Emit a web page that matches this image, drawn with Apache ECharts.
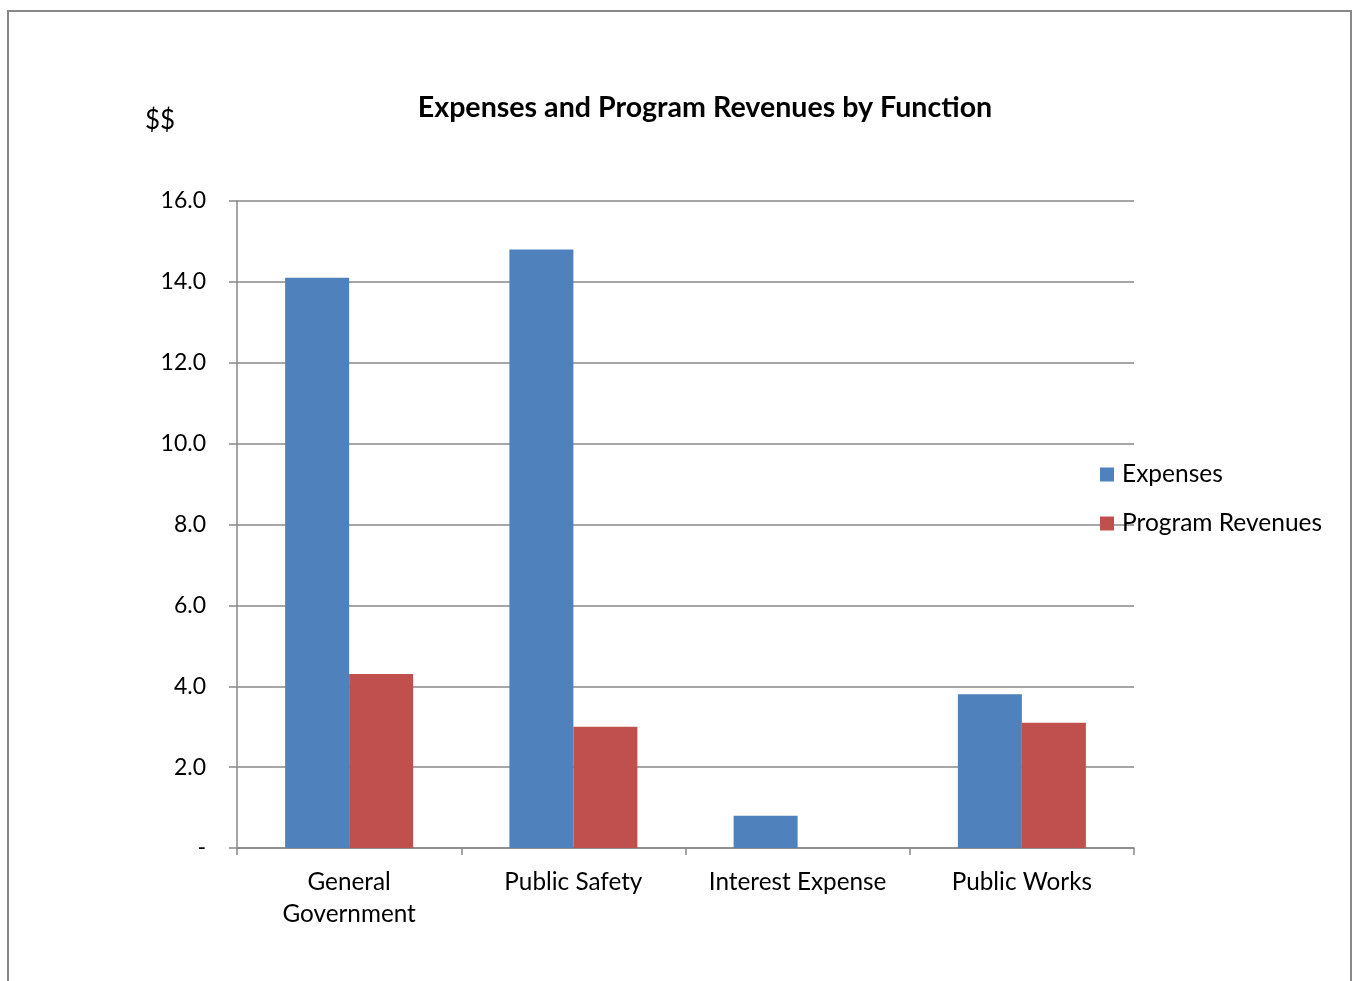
<!DOCTYPE html>
<html>
<head>
<meta charset="utf-8">
<script src="https://cdn.jsdelivr.net/npm/echarts@6/dist/echarts.min.js"></script>
<style>
  html, body { margin: 0; padding: 0; background: #fff; }
  #chart { width: 1354px; height: 981px; }
</style>
</head>
<body>
<div id="chart"></div>
<script>
// data (values in $ millions)
const categories = ['General\nGovernment', 'Public Safety', 'Interest Expense', 'Public Works'];
const expenses = [14.1, 14.8, 0.8, 3.8];
const programRevenues = [4.3, 3.0, 0, 3.1];
const seriesNames = ['Expenses', 'Program Revenues'];
const yTicks = { min: 0, max: 16, interval: 2 };

const font = 'Lato, "Open Sans", sans-serif';
const grey = '#888888';

const chart = echarts.init(document.getElementById('chart'));

const option = {
    animation: false,
    textStyle: { fontFamily: font },
    graphic: [
        {
            type: 'rect',
            shape: { x: 8, y: 11, width: 1343, height: 1000 },
            style: { fill: 'none', stroke: grey, lineWidth: 2 },
            silent: true,
        },
        {
            type: 'text',
            x: 705,
            y: 108,
            style: {
                text: 'Expenses and Program Revenues by Function',
                fontFamily: font,
                fontSize: 28.6,
                fontWeight: 'bold',
                fill: '#000',
                align: 'center',
                verticalAlign: 'middle',
            },
        },
        {
            type: 'text',
            x: 160,
            y: 121,
            style: {
                text: '$$',
                fontFamily: font,
                fontSize: 26,
                fill: '#000',
                align: 'center',
                verticalAlign: 'middle',
            },
        },
    ],
    legend: {
        data: seriesNames,
        orient: 'vertical',
        left: 1100,
        top: 462,
        padding: 0,
        itemWidth: 14,
        itemHeight: 14,
        itemGap: 24,
        icon: 'rect',
        textStyle: { fontFamily: font, fontSize: 24.5, color: '#000', lineHeight: 24, padding: [0, 0, 0, 3] },
    },
    grid: {
        left: 237,
        right: 220,
        top: 201,
        bottom: 133,
        containLabel: false,
    },
    xAxis: {
        type: 'category',
        data: categories,
        axisLine: { show: true, lineStyle: { color: grey, width: 1.5 } },
        axisTick: { show: true, length: 7, lineStyle: { color: grey, width: 1.5 } },
        axisLabel: {
            fontFamily: font,
            fontSize: 24.3,
            color: '#000',
            lineHeight: 32,
            margin: 18,
            interval: 0,
        },
    },
    yAxis: {
        type: 'value',
        min: yTicks.min,
        max: yTicks.max,
        interval: yTicks.interval,
        axisLine: { show: true, lineStyle: { color: grey, width: 1.5 } },
        axisTick: { show: true, length: 8, lineStyle: { color: grey, width: 1.5 } },
        splitLine: { show: true, lineStyle: { color: grey, width: 1.5 } },
        axisLabel: {
            fontFamily: font,
            fontSize: 23,
            color: '#000',
            margin: 31,
            formatter: (v) => (v === 0 ? '-' : v.toFixed(1)),
        },
    },
    series: [
        {
            name: seriesNames[0],
            type: 'bar',
            barWidth: 64,
            barGap: '0%',
            itemStyle: { color: '#4F81BD' },
            data: expenses,
        },
        {
            name: seriesNames[1],
            type: 'bar',
            barWidth: 64,
            barGap: '0%',
            itemStyle: { color: '#C0504D' },
            data: programRevenues,
        },
    ],
};

chart.setOption(option);
</script>
</body>
</html>
